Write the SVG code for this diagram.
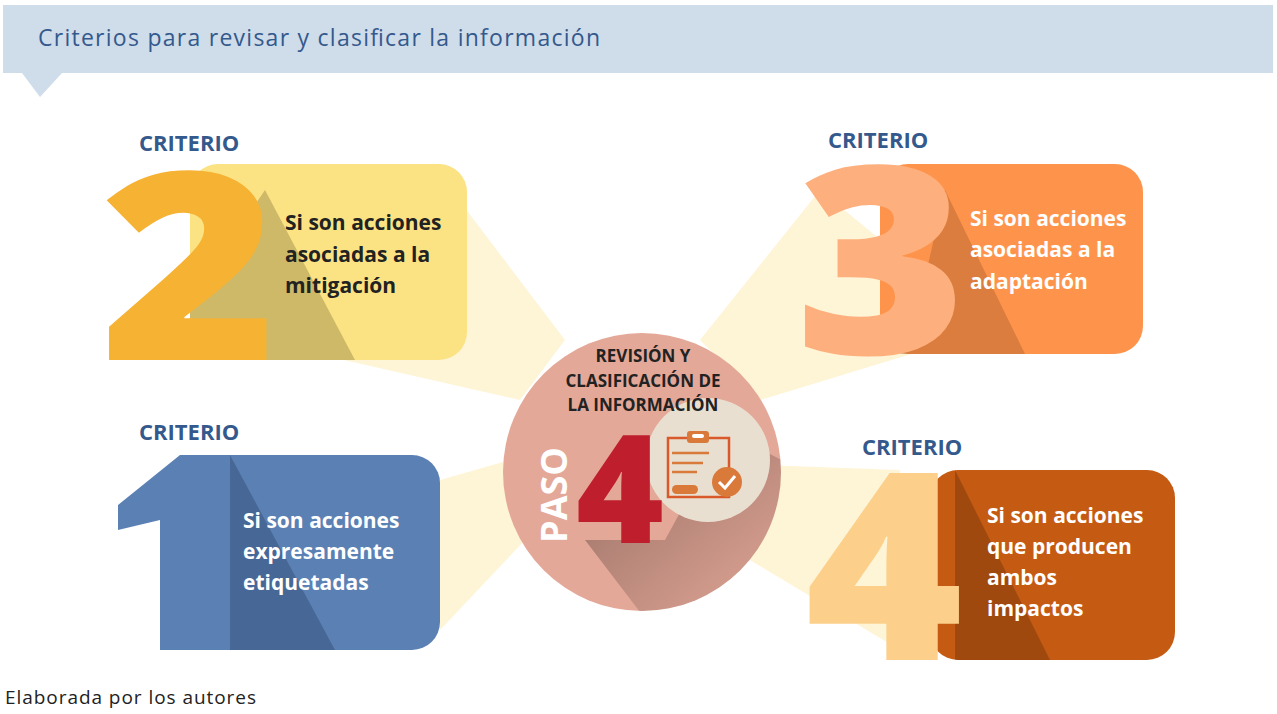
<svg xmlns="http://www.w3.org/2000/svg" width="1277" height="714" viewBox="0 0 1277 714">
<defs>
<style>
.crit{font-family:"Open Sans","Liberation Sans",sans-serif;font-weight:bold;font-size:22px;fill:#34598c}
.t{font-family:"Open Sans","Liberation Sans",sans-serif;font-weight:bold;font-size:21px}
.big{font-family:"Open Sans","Liberation Sans",sans-serif;font-weight:800;font-size:262px}
.ray{fill:#fdf0c4;opacity:0.7}
</style>
<linearGradient id="sh" x1="0" y1="0" x2="1" y2="1"><stop offset="0" stop-color="#000" stop-opacity="0.35"/><stop offset="1" stop-color="#000" stop-opacity="0"/></linearGradient>
</defs>
<rect width="1277" height="714" fill="#fff"/>
<g id="header">
<rect x="3" y="5" width="1270" height="68" fill="#cfdcea"/>
<polygon points="22,73 62,73 40,97" fill="#cfdcea"/>
<text x="38" y="46" font-family="Open Sans,Liberation Sans,sans-serif" font-size="23" fill="#34598c" textLength="562">Criterios para revisar y clasificar la información</text>
</g>
<g id="rays">
<polygon class="ray" points="440,175 565,340 520,400 300,350"/>
<polygon class="ray" points="820,190 700,340 760,400 990,330"/>
<polygon class="ray" points="440,480 510,460 525,540 440,630"/>
<polygon class="ray" points="760,465 900,470 900,650 750,560"/>
</g>
<g id="criterio2">
<text class="crit" x="139" y="151">CRITERIO</text>
<rect x="190" y="164" width="277" height="196" rx="28" fill="#fbe383"/>
<polygon points="190,300 265,190 355,360 190,360" fill="#7a6a3a" opacity="0.35"/>
<text class="big" x="100" y="360" fill="#f6b233" textLength="178" lengthAdjust="spacingAndGlyphs">2</text>
<text class="t" fill="#222"><tspan x="285" y="230">Si son acciones</tspan><tspan x="285" y="262">asociadas a la</tspan><tspan x="285" y="293">mitigación</tspan></text>
</g>
<g id="criterio3">
<text class="crit" x="828" y="148">CRITERIO</text>
<rect x="880" y="164" width="263" height="190" rx="28" fill="#fe944c"/>
<polygon points="920,300 945,190 1025,354 900,354" fill="#8a4a20" opacity="0.3"/>
<text class="big" x="795" y="354" fill="#fdb07e" textLength="172" lengthAdjust="spacingAndGlyphs">3</text>
<text class="t" fill="#fff"><tspan x="970" y="226">Si son acciones</tspan><tspan x="970" y="257">asociadas a la</tspan><tspan x="970" y="289">adaptación</tspan></text>
</g>
<g id="criterio1">
<text class="crit" x="139" y="440">CRITERIO</text>
<rect x="180" y="455" width="260" height="195" rx="28" fill="#5b81b4"/>
<polygon points="118,505 180,455 230,455 230,650 160,650 160,520 118,530" fill="#5b81b4"/>
<polygon points="230,455 335,650 230,650" fill="#2e4a70" opacity="0.45"/>
<text class="t" fill="#fff"><tspan x="243" y="528">Si son acciones</tspan><tspan x="243" y="559">expresamente</tspan><tspan x="243" y="590">etiquetadas</tspan></text>
</g>
<g id="criterio4">
<text class="crit" x="862" y="455">CRITERIO</text>
<rect x="930" y="470" width="245" height="190" rx="28" fill="#c55a13"/>
<polygon points="955,470 1050,660 955,660" fill="#5a2a05" opacity="0.35"/>
<text class="big" x="805" y="660" fill="#fcd08b" textLength="158" lengthAdjust="spacingAndGlyphs">4</text>
<text class="t" fill="#fff"><tspan x="987" y="523">Si son acciones</tspan><tspan x="987" y="554">que producen</tspan><tspan x="987" y="585">ambos</tspan><tspan x="987" y="616">impactos</tspan></text>
</g>
<g id="paso4">
<circle cx="642" cy="472" r="139" fill="#e4a898"/>
<clipPath id="cc"><circle cx="642" cy="472" r="139"/></clipPath>
<polygon points="585,540 665,540 725,430 800,470 790,600 640,612" fill="url(#sh)" clip-path="url(#cc)"/>
<circle cx="708" cy="460" r="62" fill="#e9dfd0"/>
<text text-anchor="middle" font-family="Open Sans,Liberation Sans,sans-serif" font-weight="bold" font-size="17" fill="#222"><tspan x="643" y="362">REVISIÓN Y</tspan><tspan x="643" y="387">CLASIFICACIÓN DE</tspan><tspan x="643" y="411">LA INFORMACIÓN</tspan></text>
<text x="620" y="543" text-anchor="middle" font-family="Open Sans,Liberation Sans,sans-serif" font-weight="800" font-size="150" fill="#bf1e2d">4</text>
<text transform="translate(567,495) rotate(-90)" text-anchor="middle" font-family="Open Sans,Liberation Sans,sans-serif" font-weight="bold" font-size="36" fill="#fff">PASO</text>
<rect x="668" y="438" width="61" height="59" fill="none" stroke="#d9592b" stroke-width="2.5"/>
<rect x="687" y="431" width="22" height="12" rx="3" fill="#d97a3a"/>
<rect x="692" y="434" width="12" height="4" rx="2" fill="#fff"/>
<g stroke="#d97a3a" stroke-width="2.5"><line x1="672" y1="453" x2="709" y2="453"/><line x1="672" y1="463" x2="703" y2="463"/><line x1="672" y1="472" x2="697" y2="472"/></g>
<rect x="672" y="485" width="26" height="9" rx="4.5" fill="#d97a3a"/>
<circle cx="727" cy="482" r="15" fill="#d97a3a"/>
<polyline points="719,482 725,488 735,476" fill="none" stroke="#fff" stroke-width="3"/>
</g>
<text x="5" y="704" font-family="Open Sans,Liberation Sans,sans-serif" font-size="19" fill="#222" textLength="251">Elaborada por los autores</text>
</svg>
